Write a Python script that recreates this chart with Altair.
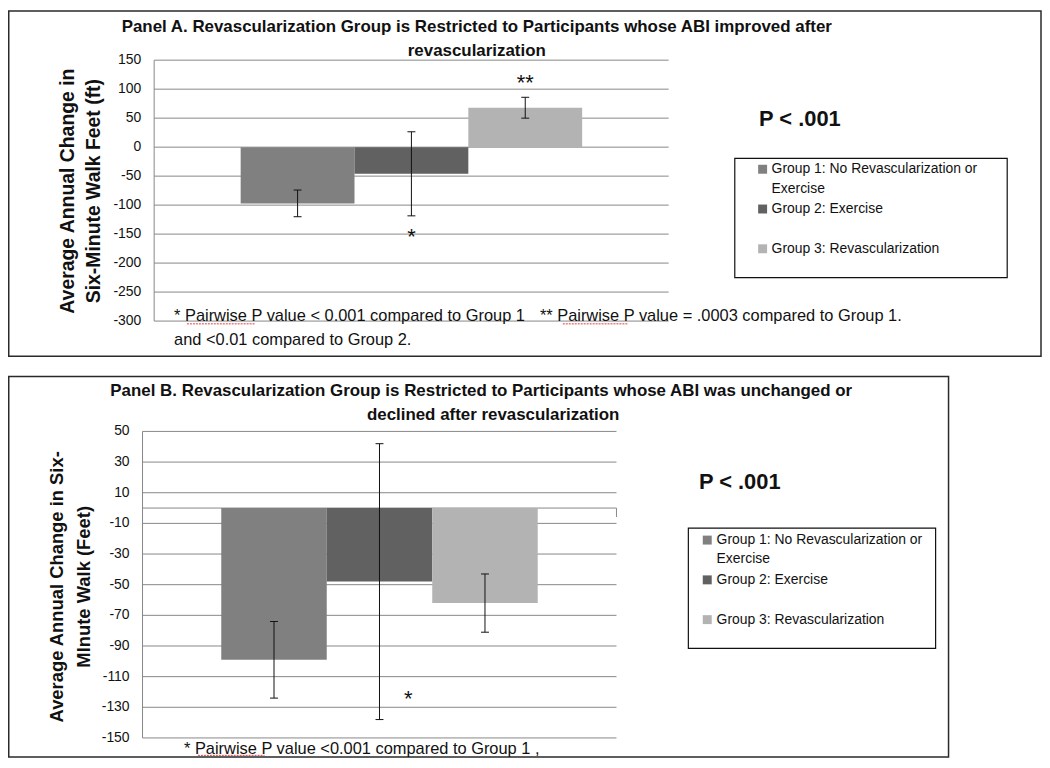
import altair as alt
import pandas as pd

FONT = "Liberation Sans"
GRID = "#878787"
INK = "#111111"

# ---------------- data ----------------
groups = ["Group 1: No Revascularization or Exercise", "Group 2: Exercise", "Group 3: Revascularization"]
bar_colors = ["#808080", "#616161", "#b3b3b3"]

# Panel A (ABI improved)
a_mean = [-97, -46, 68]
a_err = [23, 72.5, 18]
a_ticks = [150, 100, 50, 0, -50, -100, -150, -200, -250, -300]
a_marks = ["", "*", "**"]
a_mark_at = [0, -145, 121]

# Panel B (ABI unchanged or declined)
b_mean = [-99, -48, -62]
b_err = [25, 90, 19]
b_ticks = [50, 30, 10, -10, -30, -50, -70, -90, -110, -130, -150]
b_marks = ["", "*", ""]
b_mark_at = [0, -121, 0]

title_a = ["Panel A.  Revascularization Group is Restricted to Participants whose ABI improved after",
           "revascularization"]
title_b = ["Panel B.  Revascularization Group is Restricted to Participants whose ABI was unchanged or",
           "declined after revascularization"]
ytitle_a = ["Average Annual Change in", "Six-Minute Walk  Feet (ft)"]
ytitle_b = ["Average Annual Change in Six-", "MInute Walk (Feet)"]
p_text = "P < .001"
legend_lines = [["Group 1: No Revascularization or", "Exercise"], ["Group 2: Exercise"], ["Group 3: Revascularization"]]
foot_a = ["* Pairwise P value < 0.001 compared to Group 1",
          "** Pairwise P value = .0003 compared to Group 1.",
          "and <0.01 compared to Group 2."]
foot_b = "* Pairwise P value  <0.001 compared to Group 1 ,"

one = pd.DataFrame({"k": [0]})


def label(txt, x, y, size, bold=False, align="center", angle=0, color=INK):
    return alt.Chart(one).mark_text(
        text=txt, align=align, baseline="middle", fontSize=size,
        fontWeight="bold" if bold else "normal", font=FONT, color=color, angle=angle
    ).encode(x=alt.value(x), y=alt.value(y))


def box(x1, y1, x2, y2, color, width):
    return alt.Chart(one).mark_rect(fillOpacity=0, stroke=color, strokeWidth=width).encode(
        x=alt.value(x1), x2=alt.value(x2), y=alt.value(y1), y2=alt.value(y2))


def swatch(cx, cy, color, s=9):
    return alt.Chart(one).mark_rect(color=color, opacity=1).encode(
        x=alt.value(cx - s / 2), x2=alt.value(cx + s / 2), y=alt.value(cy - s / 2), y2=alt.value(cy + s / 2))


def squiggle(x1, x2, y):
    return alt.Chart(one).mark_rule(color="#e23b3b", strokeWidth=1, strokeDash=[2, 1]).encode(
        x=alt.value(x1), x2=alt.value(x2), y=alt.value(y))


def panel(means, errs, ticks, marks, mark_at, ydom, yrange, xrange, pad, star_dx=0, zero_line=False):
    n = len(means)
    df = pd.DataFrame({"group": groups, "idx": list(range(n)), "mean": means, "err": errs,
                       "mark": marks, "mark_at": mark_at})
    df["lo"] = df["mean"] - df["err"]
    df["hi"] = df["mean"] + df["err"]
    df["left"] = df["idx"] - 0.5
    df["right"] = df["idx"] + 0.5
    df["zero"] = 0
    xs = alt.Scale(domain=[-0.5 - pad, n - 0.5 + pad], range=xrange, nice=False, zero=False)
    ys = alt.Scale(domain=ydom, range=yrange, nice=False, zero=False)
    col = alt.Color("group:N", scale=alt.Scale(domain=groups, range=bar_colors), legend=None)

    tick_df = pd.DataFrame({"tick": ticks, "lab": [str(t) for t in ticks]})
    grid = alt.Chart(tick_df).mark_rule(color=GRID, strokeWidth=1).encode(
        y=alt.Y("tick:Q", scale=ys, axis=None), x=alt.value(xrange[0]), x2=alt.value(xrange[1]))
    tick_labels = alt.Chart(tick_df).mark_text(
        align="right", baseline="middle", fontSize=14, font=FONT, color=INK).encode(
        y=alt.Y("tick:Q", scale=ys, axis=None), x=alt.value(xrange[0] - 13), text="lab:N")
    dom_df = pd.DataFrame({"lo": [ydom[0]], "hi": [ydom[1]]})
    domain = alt.Chart(dom_df).mark_rule(color=GRID, strokeWidth=1).encode(
        y=alt.Y("lo:Q", scale=ys, axis=None), y2="hi:Q", x=alt.value(xrange[0]))
    layers = [grid, domain, tick_labels]
    if zero_line:
        zero_px = yrange[1] + (yrange[0] - yrange[1]) * ydom[1] / (ydom[1] - ydom[0])
        layers.append(alt.Chart(df.head(1)).mark_rule(color=GRID, strokeWidth=1).encode(
            y=alt.Y("zero:Q", scale=ys, axis=None), x=alt.value(xrange[0]), x2=alt.value(xrange[1])))
        layers.append(alt.Chart(df.head(1)).mark_rule(color=GRID, strokeWidth=1).encode(
            y=alt.Y("zero:Q", scale=ys, axis=None), y2=alt.value(zero_px + 9), x=alt.value(xrange[1])))
    bars = alt.Chart(df).mark_bar(opacity=1).encode(
        x=alt.X("left:Q", scale=xs, axis=None), x2="right:Q",
        y=alt.Y("mean:Q", scale=ys, axis=None), y2="zero:Q", color=col)
    errs_rule = alt.Chart(df).mark_rule(color=INK, strokeWidth=1).encode(
        x=alt.X("idx:Q", scale=xs, axis=None), y=alt.Y("lo:Q", scale=ys, axis=None), y2="hi:Q")
    cap_lo = alt.Chart(df).mark_tick(orient="horizontal", size=8, thickness=1, color=INK, opacity=1).encode(
        x=alt.X("idx:Q", scale=xs, axis=None), y=alt.Y("lo:Q", scale=ys, axis=None))
    cap_hi = alt.Chart(df).mark_tick(orient="horizontal", size=8, thickness=1, color=INK, opacity=1).encode(
        x=alt.X("idx:Q", scale=xs, axis=None), y=alt.Y("hi:Q", scale=ys, axis=None))
    stars = alt.Chart(df[df["mark"] != ""]).mark_text(
        fontSize=22, font=FONT, color=INK, dy=6, dx=star_dx, baseline="middle").encode(
        x=alt.X("idx:Q", scale=xs, axis=None), y=alt.Y("mark_at:Q", scale=ys, axis=None), text="mark:N")
    layers += [bars, errs_rule, cap_lo, cap_hi, stars]
    return alt.layer(*layers)


def legend(x1, y1, x2, y2, sw_x, text_x, row0, pitch=40, line=19.5):
    parts = [box(x1, y1, x2, y2, INK, 1.2)]
    for i, lines in enumerate(legend_lines):
        cy = row0 + pitch * i
        parts.append(swatch(sw_x, cy, bar_colors[i]))
        for j, t in enumerate(lines):
            parts.append(label(t, text_x, cy + j * line, 14, align="left"))
    return parts


panel_a = panel(a_mean, a_err, a_ticks, a_marks, a_mark_at, [-300, 150], [312.7, 50.3], [147, 664.5], 0.76)
panel_b = panel(b_mean, b_err, b_ticks, b_marks, b_mark_at, [-150, 50], [732, 423.7], [135.3, 612], 0.7465,
                star_dx=29, zero_line=True)

deco = [
    box(0.75, 0.75, 1039, 348, "#2a2a2a", 1.5),
    box(0.75, 368.5, 946, 751.25, "#2a2a2a", 1.5),
    label(title_a[0], 471.5, 17, 17, bold=True),
    label(title_a[1], 471.5, 41, 17, bold=True),
    label(title_b[0], 476, 383.5, 17, bold=True),
    label(title_b[1], 488, 407, 17, bold=True),
    label(ytitle_a[0], 60, 182, 19.5, bold=True, angle=270),
    label(ytitle_a[1], 86.5, 182, 19.5, bold=True, angle=270),
    label(ytitle_b[0], 49.5, 580, 18.5, bold=True, angle=270),
    label(ytitle_b[1], 76.5, 580, 18.5, bold=True, angle=270),
    label(p_text, 796.5, 110, 22, bold=True),
    label(p_text, 736, 475, 22, bold=True),
    label(foot_a[0], 167, 308, 16.5, align="left"),
    label(foot_a[1], 535, 308, 16.5, align="left"),
    label(foot_a[2], 167, 332, 16.5, align="left"),
    label(foot_b, 177, 743.5, 16.5, align="left"),
    squiggle(180, 248, 315.5),
    squiggle(558, 624, 315.5),
    squiggle(191, 258, 749.5),
]
deco += legend(731, 149, 1005, 269, 759, 768, 160)
deco += legend(684.3, 521, 933, 642, 703.3, 712.7, 533)

chart = alt.layer(panel_a, panel_b, *deco).resolve_scale(
    x="independent", y="independent"
).properties(
    width=1040, height=752, padding=0, background="white",
    autosize=alt.AutoSizeParams(type="none")
).configure_view(stroke=None)

chart.save("out.html", embed_options={"renderer": "svg", "actions": False})
